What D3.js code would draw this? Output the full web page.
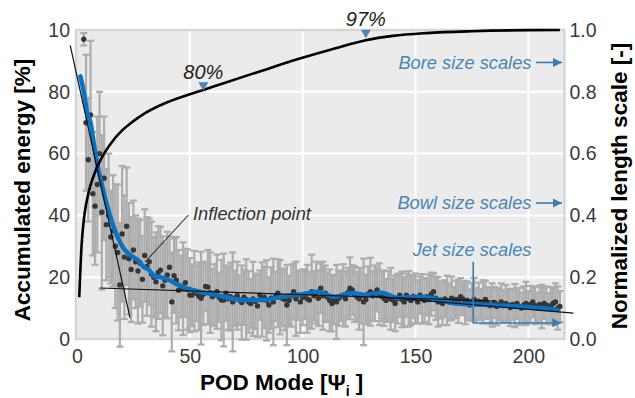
<!DOCTYPE html>
<html><head><meta charset="utf-8">
<script src="https://cdn.jsdelivr.net/npm/d3@7"></script>
<style>
html,body{margin:0;padding:0;background:#fff;}
svg{display:block;font-family:"Liberation Sans",Arial,Helvetica,sans-serif;}
</style></head><body>
<svg id="chart" width="635" height="398"></svg>
<script>
// ---- data ----------------------------------------------------------------
// normalized length scale per POD mode (first entry is mode 3) and its spread
const firstMode = 3;
const lengthScale = [
  0.97,0.70,0.58,0.725,0.47,0.43,0.50,0.60,0.41,0.52,0.37,0.40,0.33,0.35,0.30,0.28,0.175,0.34,0.265,0.365,0.26,0.225,0.288,0.25,0.22,0.245,0.193,0.27,
  0.235,0.25,0.21,0.20,0.185,0.215,0.223,0.172,0.19,0.207,
  0.232,0.12,0.205,0.19,0.158,0.17,0.163,0.182,0.16,0.142,
  0.142,0.155,0.148,0.138,0.132,0.145,0.17,0.168,0.15,0.137,
  0.142,0.153,0.135,0.126,0.126,0.148,0.13,0.137,0.12,0.132,
  0.14,0.126,0.118,0.135,0.128,0.12,0.115,0.13,0.122,0.107,
  0.142,0.128,0.135,0.125,0.11,0.132,0.12,0.138,0.148,0.135,
  0.132,0.128,0.11,0.125,0.14,0.153,0.13,0.142,0.12,0.135,
  0.145,0.13,0.126,0.153,0.14,0.15,0.132,0.164,0.14,0.148,
  0.135,0.125,0.115,0.128,0.12,0.132,0.138,0.142,0.13,0.15,
  0.164,0.159,0.145,0.137,0.13,0.14,0.12,0.128,0.145,0.153,
  0.14,0.148,0.159,0.145,0.138,0.132,0.125,0.14,0.13,0.126,
  0.115,0.13,0.142,0.128,0.12,0.142,0.13,0.125,0.138,0.132,
  0.12,0.142,0.13,0.125,0.137,0.128,0.145,0.153,0.132,0.12,
  0.126,0.115,0.13,0.125,0.12,0.132,0.118,0.128,0.122,0.137,
  0.13,0.118,0.125,0.11,0.12,0.128,0.115,0.122,0.112,0.12,
  0.128,0.115,0.108,0.11,0.118,0.105,0.112,0.12,0.108,0.115,
  0.11,0.102,0.112,0.108,0.115,0.105,0.10,0.11,0.115,0.105,
  0.112,0.12,0.108,0.10,0.112,0.105,0.115,0.11,0.098,0.108,
  0.115,0.12,0.10,0.105
];
const lengthErr = [
  0.02,0.22,0.20,0.24,0.20,0.19,0.22,0.20,0.25,0.20,0.18,0.20,0.15,0.18,0.20,0.22,0.20,0.22,0.20,0.19,0.18,0.17,0.16,0.15,0.17,0.14,0.14,0.15,
  0.16,0.14,0.17,0.13,0.16,0.15,0.14,0.16,0.12,0.14,
  0.10,0.16,0.12,0.14,0.13,0.10,0.15,0.11,0.13,0.12,
  0.10,0.13,0.09,0.11,0.15,0.10,0.08,0.12,0.13,0.09,
  0.10,0.12,0.08,0.13,0.15,0.09,0.10,0.11,0.16,0.09,
  0.11,0.08,0.12,0.09,0.13,0.10,0.08,0.12,0.09,0.10,
  0.08,0.12,0.10,0.13,0.09,0.10,0.14,0.08,0.11,0.12,
  0.09,0.10,0.13,0.08,0.10,0.09,0.12,0.08,0.10,0.09,
  0.08,0.11,0.09,0.12,0.08,0.10,0.09,0.08,0.11,0.09,
  0.08,0.10,0.09,0.08,0.12,0.09,0.08,0.10,0.09,0.08,
  0.10,0.08,0.09,0.08,0.10,0.09,0.14,0.08,0.09,0.11,
  0.08,0.09,0.07,0.10,0.08,0.09,0.07,0.08,0.10,0.07,
  0.09,0.08,0.07,0.09,0.08,0.07,0.09,0.08,0.07,0.08,
  0.07,0.06,0.08,0.07,0.06,0.08,0.07,0.06,0.07,0.08,
  0.06,0.07,0.06,0.08,0.06,0.07,0.05,0.06,0.07,0.06,
  0.05,0.07,0.06,0.05,0.06,0.07,0.05,0.06,0.05,0.07,
  0.06,0.05,0.06,0.07,0.05,0.06,0.05,0.06,0.05,0.06,
  0.05,0.06,0.05,0.07,0.05,0.06,0.05,0.06,0.07,0.05,
  0.06,0.05,0.06,0.05,0.06,0.07,0.05,0.06,0.05,0.06,
  0.05,0.06,0.07,0.05
];

// smoothed length scale trend
const trendModes = [1.5,3,4.6,6,7.5,9.7,11,13,16.4,18,21,23,25,27,29.6,32,34,37,41,45,48.6,55,62,68,73.6,82.5,91,100,107,114,122,128,135,142,153,160,167,181.6,196,205,213];
const trendVals  = [0.85,0.80,0.73,0.70,0.63,0.54,0.50,0.44,0.36,0.33,0.29,0.275,0.265,0.255,0.233,0.223,0.205,0.20,0.19,0.175,0.165,0.152,0.142,0.132,0.126,0.126,0.137,0.145,0.153,0.137,0.149,0.143,0.15,0.133,0.137,0.128,0.116,0.11,0.105,0.10,0.094];

// accumulated energy [%]
const energyModes = [1,2,3,4,5,6,8,10,12,15,20,25,30,40,50,56,65,81,98,115,128,140,155,175,200,214];
const energyPct   = [13.5,30,38.5,43.5,47,49.8,54,57.3,60,63.3,67.5,70.5,73,76.6,79.2,80.6,82.8,86.6,90.6,94.2,96.7,98.1,99.0,99.6,99.95,100];

// linear fits (mode, normalized length)
const fitSteepModes = [-3, 23.5];
const fitSteepVals  = [0.95, 0.068];
const fitFlatModes  = [10, 185];
const fitFlatVals   = [0.165, 0.123];
const fitTailModes  = [130, 220];
const fitTailVals   = [0.139, 0.084];

// energy milestones
const markModes  = [56, 128];
const markPct    = [80, 97];
const markLabels = ["80%", "97%"];

// axes
const xTicks = [0, 50, 100, 150, 200];
const leftTicks = [0, 20, 40, 60, 80, 100];
const leftTickLabels = ["0", "20", "40", "60", "80", "10"];
const rightTicks = [0, 0.2, 0.4, 0.6, 0.8, 1.0];
const rightTickLabels = ["0.0", "0.2", "0.4", "0.6", "0.8", "1.0"];

// scale-range annotations (normalized length level)
const boreLevel = 0.895;
const bowlLevel = 0.44;
const jetMode = 175.6, jetTop = 0.25, jetBottom = 0.052, jetEnd = 214.6;

// ---- drawing -------------------------------------------------------------
const svg = d3.select("#chart");
const L = 77, R = 564.4, T = 30, B = 339;
const x = d3.scaleLinear().domain([0, 216]).range([L, R]);
const yL = d3.scaleLinear().domain([0, 100]).range([B, T]);
const yR = d3.scaleLinear().domain([0, 1]).range([B, T]);

const annoBlue = "#4a86b6";
const lineBlue = "#3b7db3";

// panel
svg.append("rect").attr("x", L - 1).attr("y", T).attr("width", R - L + 1).attr("height", B - T)
  .attr("fill", "#ebebeb").attr("stroke", "#d6d6d6").attr("stroke-width", 2.5);

const grid = svg.append("g");
grid.selectAll("line.v").data(xTicks.filter(d => d > 0)).join("line")
  .attr("x1", d => x(d)).attr("x2", d => x(d)).attr("y1", T + 1.5).attr("y2", B - 1.5)
  .attr("stroke", "#fff").attr("stroke-width", 2);
grid.selectAll("line.h").data(leftTicks.filter(d => d > 0 && d < 100)).join("line")
  .attr("x1", L).attr("x2", R - 1.5).attr("y1", d => yL(d)).attr("y2", d => yL(d))
  .attr("stroke", "#fff").attr("stroke-width", 2);

// error bars
const pts = lengthScale.map((v, i) => ({ m: firstMode + i, v, e: lengthErr[i] }));
const eb = svg.append("g").attr("stroke", "#adadad").attr("stroke-width", 2.2).attr("fill", "none");
pts.forEach(p => {
  const cx = x(p.m), y0 = yR(p.v - p.e), y1 = yR(p.v + p.e);
  eb.append("line").attr("x1", cx).attr("x2", cx).attr("y1", y0).attr("y2", y1);
  eb.append("line").attr("x1", cx - 3.5).attr("x2", cx + 3.5).attr("y1", y0).attr("y2", y0);
  eb.append("line").attr("x1", cx - 3.5).attr("x2", cx + 3.5).attr("y1", y1).attr("y2", y1);
});

// points
svg.append("g").selectAll("circle").data(pts).join("circle")
  .attr("cx", d => x(d.m)).attr("cy", d => yR(d.v)).attr("r", 2.7).attr("fill", "#363636");

// smoothed trend
svg.append("path")
  .datum(trendModes.map((m, i) => [m, trendVals[i]]))
  .attr("d", d3.line().x(d => x(d[0])).y(d => yR(d[1])).curve(d3.curveMonotoneX))
  .attr("fill", "none").attr("stroke", "#0a72c0").attr("stroke-width", 4.5).attr("stroke-linecap", "round");

// linear fits
[[fitSteepModes, fitSteepVals], [fitFlatModes, fitFlatVals], [fitTailModes, fitTailVals]].forEach(([ms, vs]) => {
  svg.append("line")
    .attr("x1", x(ms[0])).attr("y1", yR(vs[0])).attr("x2", x(ms[1])).attr("y2", yR(vs[1]))
    .attr("stroke", "#111").attr("stroke-width", 1.2);
});

// accumulated energy curve
svg.append("path")
  .datum(energyModes.map((m, i) => [m, energyPct[i]]))
  .attr("d", d3.line().x(d => x(d[0])).y(d => yL(d[1])).curve(d3.curveMonotoneX))
  .attr("fill", "none").attr("stroke", "#000").attr("stroke-width", 2.6);

// milestones
markModes.forEach((m, i) => {
  const cx = x(m), tip = yL(markPct[i]) - 1;
  svg.append("path").attr("d", `M${cx - 5},${tip - 8.5}L${cx + 5},${tip - 8.5}L${cx},${tip}Z`).attr("fill", annoBlue);
  svg.append("text").attr("x", cx).attr("y", tip - 12).attr("text-anchor", "middle")
    .attr("font-size", 20).attr("font-style", "italic").attr("fill", "#222").text(markLabels[i]);
});

// arrow marker
svg.append("defs").append("marker").attr("id", "ah").attr("viewBox", "0 0 10 10")
  .attr("refX", 10).attr("refY", 5).attr("markerWidth", 9).attr("markerHeight", 9)
  .attr("markerUnits", "userSpaceOnUse").attr("orient", "auto")
  .append("path").attr("d", "M0,0L10,5L0,10Z").attr("fill", lineBlue);

function levelArrow(level, label) {
  const yy = yR(level);
  svg.append("line").attr("x1", 536).attr("x2", 562).attr("y1", yy).attr("y2", yy)
    .attr("stroke", lineBlue).attr("stroke-width", 1.6).attr("marker-end", "url(#ah)");
  svg.append("text").attr("x", 531.5).attr("y", yy + 6.3).attr("text-anchor", "end")
    .attr("font-size", 18.3).attr("font-style", "italic").attr("fill", annoBlue).text(label);
}
levelArrow(boreLevel, "Bore size scales");
levelArrow(bowlLevel, "Bowl size scales");

// jet scales bracket
svg.append("path")
  .attr("d", `M${x(jetMode)},${yR(jetTop)}L${x(jetMode)},${yR(jetBottom)}L${x(jetEnd)},${yR(jetBottom)}`)
  .attr("fill", "none").attr("stroke", lineBlue).attr("stroke-width", 1.6).attr("marker-end", "url(#ah)");
svg.append("text").attr("x", 531.5).attr("y", yR(jetTop) - 6).attr("text-anchor", "end")
  .attr("font-size", 18.3).attr("font-style", "italic").attr("fill", annoBlue).text("Jet size scales");

// inflection point note
svg.append("line").attr("x1", 188.5).attr("y1", 215).attr("x2", 145).attr("y2", 262)
  .attr("stroke", "#333").attr("stroke-width", 1.1);
svg.append("text").attr("x", 193).attr("y", 220).attr("font-size", 18.3).attr("font-style", "italic")
  .attr("fill", "#333").text("Inflection point");

// axes
function styleAxis(g) {
  g.select(".domain").remove();
  g.selectAll("text").attr("font-size", 19.5).attr("fill", "#3a3a3a")
    .attr("font-family", '"Liberation Sans",Arial,sans-serif');
}
svg.append("g").attr("transform", `translate(${L},0)`)
  .call(d3.axisLeft(yL).tickValues(leftTicks).tickFormat((d, i) => leftTickLabels[i]).tickSize(0).tickPadding(7))
  .call(styleAxis);
svg.append("g").attr("transform", `translate(${R},0)`)
  .call(d3.axisRight(yR).tickValues(rightTicks).tickFormat((d, i) => rightTickLabels[i]).tickSize(0).tickPadding(5))
  .call(styleAxis);
svg.append("g").attr("transform", `translate(0,${B})`)
  .call(d3.axisBottom(x).tickValues(xTicks).tickFormat(d3.format("d")).tickSize(0).tickPadding(10))
  .call(styleAxis);

// axis titles
svg.append("text").attr("transform", "translate(30,190) rotate(-90)").attr("text-anchor", "middle")
  .attr("font-size", 22.5).attr("font-weight", "bold").attr("fill", "#000").text("Accumulated energy [%]");
svg.append("text").attr("transform", "translate(627,186) rotate(-90)").attr("text-anchor", "middle")
  .attr("font-size", 22.5).attr("font-weight", "bold").attr("fill", "#000").text("Normalized length scale [-]");
const xt = svg.append("text").attr("x", 200).attr("y", 390).attr("font-size", 22.5)
  .attr("font-weight", "bold").attr("fill", "#000");
xt.append("tspan").text("POD Mode [\u03A8");
xt.append("tspan").attr("font-size", 14).attr("dy", 6).text("i");
xt.append("tspan").attr("dy", -6).text(" ]");
</script>
</body></html>
